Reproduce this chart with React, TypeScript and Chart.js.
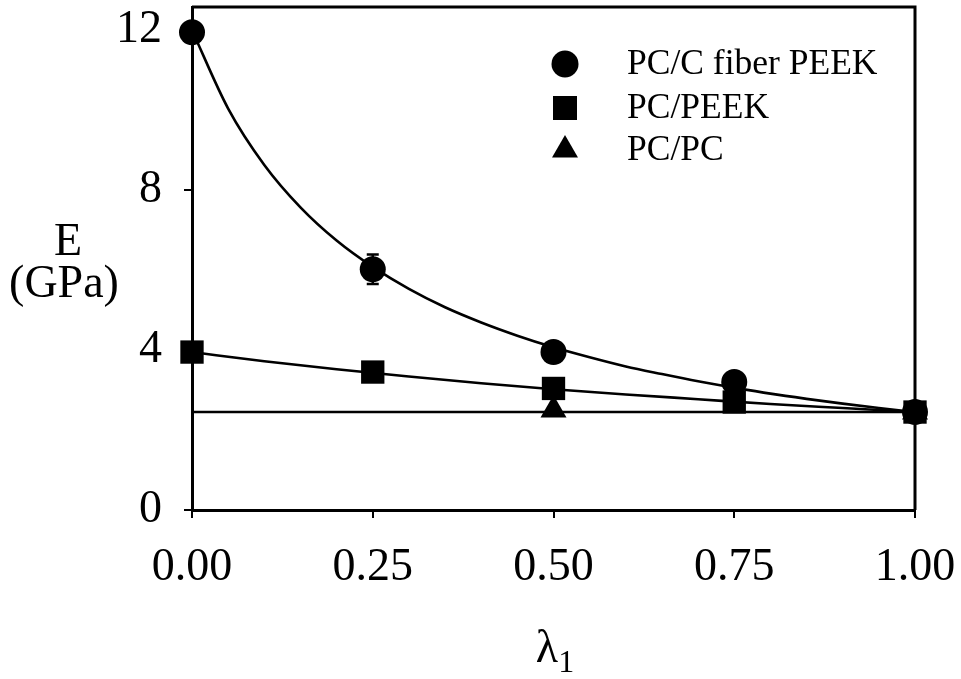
import React, { useEffect, useRef } from "react";
import { Chart, registerables } from "chart.js";

Chart.register(...registerables);

// ---- data ----
const lambdaValues = [0, 0.25, 0.5, 0.75, 1.0];
const cfiberPeekE = [11.95, 6.02, 3.95, 3.2, 2.45];
const cfiberPeekErr = [0, 0.37, 0, 0, 0];
const pcPeekE = [3.95, 3.45, 3.04, 2.7, 2.45];
const pcPcLambda = [0.5, 1.0];
const pcPcE = [2.5, 2.45];

// fitted curves
const fitLambda = [0, 0.05, 0.1, 0.15, 0.2, 0.25, 0.3, 0.35, 0.4, 0.45, 0.5, 0.55, 0.6, 0.65, 0.7, 0.75, 0.8, 0.85, 0.9, 0.95, 1.0];
const fitCfiber = [12.0, 10.04, 8.63, 7.57, 6.74, 6.08, 5.53, 5.07, 4.69, 4.36, 4.07, 3.82, 3.59, 3.4, 3.22, 3.06, 2.91, 2.78, 2.66, 2.55, 2.45];
const fitPeekLambda = [0, 0.1, 0.2, 0.3, 0.4, 0.5, 0.6, 0.7, 0.8, 0.9, 1.0];
const fitPeek = [3.95, 3.72, 3.52, 3.34, 3.17, 3.02, 2.89, 2.77, 2.65, 2.55, 2.45];
const pcLineLambda = [0, 1];
const pcLineE = [2.45, 2.45];

const seriesNames = ["PC/C fiber PEEK", "PC/PEEK", "PC/PC"];
const xTicks = [0, 0.25, 0.5, 0.75, 1.0];
const yTicks = [0, 4, 8, 12];
const yTitleLines = ["E", "(GPa)"];
const xTitle = "λ";
const xTitleSub = "1";

const SERIF = "'Liberation Serif', 'Times New Roman', serif";

const zip = (xs: number[], ys: number[]) => xs.map((x, i) => ({ x, y: ys[i] }));

const framePlugin = {
  id: "frame",
  afterDraw(chart: any) {
    const { ctx, chartArea } = chart;
    ctx.save();
    ctx.strokeStyle = "#000";
    ctx.lineWidth = 3;
    ctx.beginPath();
    ctx.moveTo(chartArea.left, chartArea.top);
    ctx.lineTo(chartArea.right, chartArea.top);
    ctx.lineTo(chartArea.right, chartArea.bottom);
    ctx.stroke();
    ctx.restore();
  },
};

const errorBarPlugin = {
  id: "errbars",
  afterDatasetsDraw(chart: any) {
    const { ctx } = chart;
    const xs = chart.scales.x;
    const ys = chart.scales.y;
    ctx.save();
    ctx.strokeStyle = "#000";
    ctx.lineWidth = 2.5;
    lambdaValues.forEach((l, i) => {
      const e = cfiberPeekErr[i];
      if (!e) return;
      const px = xs.getPixelForValue(l);
      const y1 = ys.getPixelForValue(cfiberPeekE[i] + e);
      const y2 = ys.getPixelForValue(cfiberPeekE[i] - e);
      ctx.beginPath();
      ctx.moveTo(px, y1);
      ctx.lineTo(px, y2);
      ctx.moveTo(px - 6, y1);
      ctx.lineTo(px + 6, y1);
      ctx.moveTo(px - 6, y2);
      ctx.lineTo(px + 6, y2);
      ctx.stroke();
    });
    ctx.restore();
  },
};

function drawMarker(ctx: CanvasRenderingContext2D, style: string, x: number, y: number, r: number) {
  ctx.beginPath();
  if (style === "circle") {
    ctx.arc(x, y, r, 0, Math.PI * 2);
  } else if (style === "rect") {
    const s = r * Math.SQRT1_2;
    ctx.rect(x - s, y - s, 2 * s, 2 * s);
  } else {
    ctx.moveTo(x, y - r);
    ctx.lineTo(x + r * Math.sin(Math.PI * 2 / 3), y + r / 2);
    ctx.lineTo(x - r * Math.sin(Math.PI * 2 / 3), y + r / 2);
    ctx.closePath();
  }
  ctx.fill();
}

const textPlugin = {
  id: "texts",
  afterDraw(chart: any) {
    const { ctx } = chart;
    ctx.save();
    ctx.fillStyle = "#000";
    // legend
    const styles = ["circle", "rect", "triangle"];
    const radii = [13.5, 17, 15];
    const rows = [64, 108, 150];
    ctx.font = `35.5px ${SERIF}`;
    ctx.textBaseline = "middle";
    ctx.textAlign = "left";
    seriesNames.forEach((n, i) => {
      drawMarker(ctx, styles[i], 565, rows[i], radii[i]);
      ctx.fillText(n, 627, rows[i] + 1);
    });
    // y title
    ctx.font = `46px ${SERIF}`;
    ctx.textAlign = "center";
    ctx.textBaseline = "alphabetic";
    ctx.fillText(yTitleLines[0], 68, 255);
    ctx.fillText(yTitleLines[1], 64, 297);
    // x title
    ctx.textAlign = "left";
    const w = ctx.measureText(xTitle).width;
    ctx.fillText(xTitle, 555 - w / 2 - 8, 662);
    ctx.font = `32px ${SERIF}`;
    ctx.fillText(xTitleSub, 555 + w / 2 - 8, 672);
    ctx.restore();
  },
};

const zeroPad = (s: any) => {
  s.paddingTop = 0;
  s.paddingBottom = 0;
  s.paddingLeft = 0;
  s.paddingRight = 0;
};

export default function App() {
  const ref = useRef<HTMLCanvasElement | null>(null);
  useEffect(() => {
    document.body.style.margin = "0";
    const canvas = ref.current!;
    const lineDs = (data: any[]) => ({
      type: "line" as const,
      data,
      borderColor: "#000",
      borderWidth: 2.6,
      pointRadius: 0,
      showLine: true,
      fill: false,
      clip: false,
      cubicInterpolationMode: "monotone" as const,
    });
    const chart = new Chart(canvas, {
      type: "scatter",
      data: {
        datasets: [
          lineDs(zip(fitLambda, fitCfiber)),
          lineDs(zip(fitPeekLambda, fitPeek)),
          lineDs(zip(pcLineLambda, pcLineE)),
          {
            label: seriesNames[0],
            data: zip(lambdaValues, cfiberPeekE),
            pointStyle: "circle",
            pointRadius: 13,
            backgroundColor: "#000",
            borderColor: "#000",
            borderWidth: 0,
            clip: false,
          },
          {
            label: seriesNames[1],
            data: zip(lambdaValues, pcPeekE),
            pointStyle: "rect",
            pointRadius: 16.5,
            backgroundColor: "#000",
            borderColor: "#000",
            borderWidth: 0,
            clip: false,
          },
          {
            label: seriesNames[2],
            data: zip(pcPcLambda, pcPcE),
            pointStyle: "triangle",
            pointRadius: 15,
            backgroundColor: "#000",
            borderColor: "#000",
            borderWidth: 0,
            clip: false,
          },
        ] as any,
      },
      options: {
        animation: false,
        responsive: false,
        events: [],
        layout: { autoPadding: false, padding: { left: 0, top: 7, right: 46, bottom: 0 } },
        plugins: { legend: { display: false }, tooltip: { enabled: false } },
        scales: {
          x: {
            type: "linear",
            min: 0,
            max: 1,
            afterBuildTicks: (s: any) => {
              s.ticks = xTicks.map((v) => ({ value: v }));
            },
            afterFit: (s: any) => {
              s.height = 169;
              zeroPad(s);
            },
            ticks: {
              color: "#000",
              font: { family: SERIF, size: 46 },
              padding: 22,
              maxRotation: 0,
              callback: (v: any) => Number(v).toFixed(2),
            },
            grid: {
              drawOnChartArea: false,
              drawTicks: true,
              tickLength: 8,
              tickColor: "#000",
              lineWidth: 2,
            },
            border: { display: true, color: "#000", width: 3 },
          },
          y: {
            type: "linear",
            min: 0,
            max: 12.58,
            afterBuildTicks: (s: any) => {
              s.ticks = yTicks.map((v) => ({ value: v }));
            },
            afterFit: (s: any) => {
              s.width = 192;
              zeroPad(s);
            },
            ticks: {
              color: "#000",
              font: { family: SERIF, size: 46 },
              padding: 22,
              callback: (v: any) => String(v),
            },
            grid: {
              drawOnChartArea: false,
              drawTicks: true,
              tickLength: 8,
              tickColor: "#000",
              lineWidth: 2,
            },
            border: { display: true, color: "#000", width: 3 },
          },
        },
      },
      plugins: [framePlugin, errorBarPlugin, textPlugin],
    });
    return () => chart.destroy();
  }, []);
  return (
    <div style={{ position: "absolute", left: 0, top: 0, width: 961, height: 679, background: "#fff" }}>
      <canvas ref={ref} width={961} height={679} style={{ display: "block", width: 961, height: 679 }} />
    </div>
  );
}
